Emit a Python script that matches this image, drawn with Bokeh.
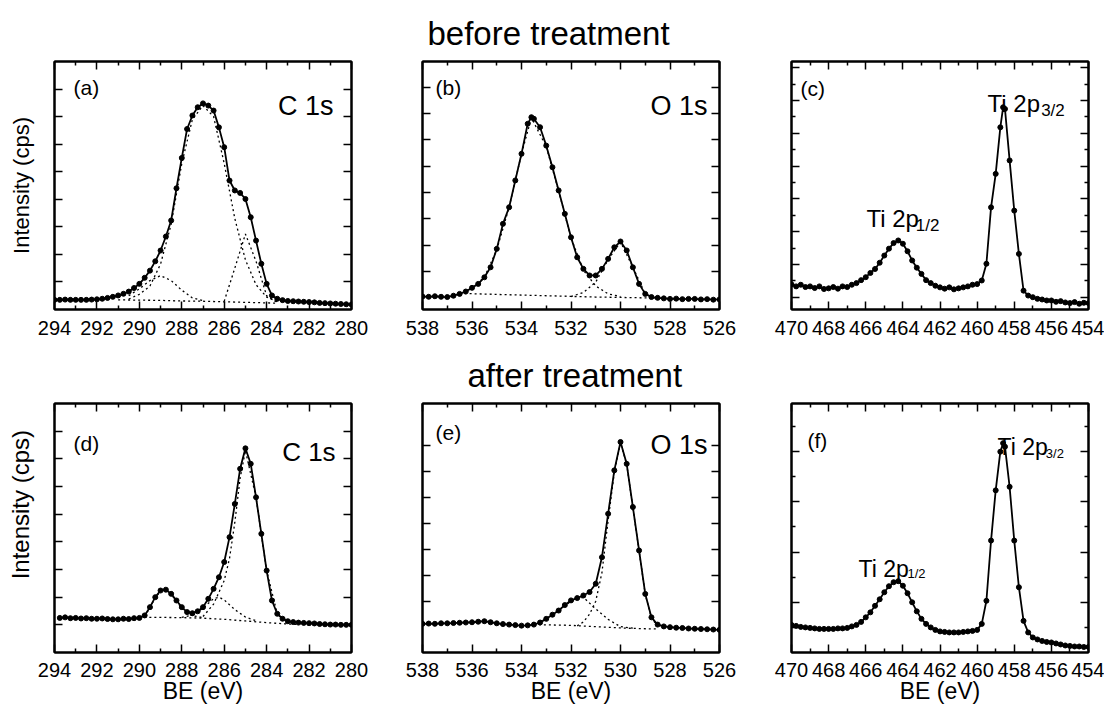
import numpy as np
from bokeh.plotting import figure
from bokeh.layouts import column, row
from bokeh.models import Range1d, FixedTicker, Label, LinearAxis
from bokeh.embed import file_html
from bokeh.resources import INLINE

# ---------------- data (binding energy in eV, intensity in arbitrary units) ----------------
# (a) C 1s before treatment
c1s_before_be = [294.00, 293.75, 293.50, 293.25, 293.00, 292.75, 292.50, 292.25, 292.00, 291.75,
                 291.50, 291.25, 291.00, 290.75, 290.50, 290.25, 290.00, 289.75, 289.50, 289.25,
                 289.00, 288.75, 288.50, 288.25, 288.00, 287.75, 287.50, 287.25, 287.00, 286.75,
                 286.50, 286.25, 286.00, 285.75, 285.50, 285.25, 285.00, 284.75, 284.50, 284.25,
                 284.00, 283.75, 283.50, 283.25, 283.00, 282.75, 282.50, 282.25, 282.00, 281.75,
                 281.50, 281.25, 281.00, 280.75, 280.50, 280.25, 280.00]
c1s_before_int = [0.35, 0.35, 0.36, 0.35, 0.35, 0.35, 0.35, 0.36, 0.37, 0.39,
                  0.42, 0.46, 0.51, 0.57, 0.65, 0.78, 0.93, 1.15, 1.41, 1.75,
                  2.14, 2.65, 3.23, 4.40, 5.50, 6.55, 7.04, 7.34, 7.48, 7.40,
                  7.22, 6.61, 5.89, 4.68, 4.32, 4.23, 4.01, 3.35, 2.50, 1.66,
                  0.93, 0.51, 0.39, 0.34, 0.31, 0.30, 0.29, 0.28, 0.27, 0.26,
                  0.24, 0.23, 0.22, 0.21, 0.20, 0.19, 0.18]
c1s_before_bg_be = [291.0, 290.0, 289.0, 288.0, 287.0, 286.0, 285.0, 284.0, 283.5]
c1s_before_bg = [0.35, 0.34, 0.33, 0.31, 0.30, 0.28, 0.26, 0.24, 0.23]
c1s_before_p1_be = [290.5, 290.0, 289.5, 289.0, 288.5, 288.0, 287.5, 287.0, 286.5, 286.0, 285.5, 285.0, 284.5, 284.0, 283.5]
c1s_before_p1 = [0.38, 0.55, 0.85, 1.65, 3.10, 5.30, 6.90, 7.40, 7.00, 5.30, 3.30, 1.80, 0.90, 0.45, 0.28]
c1s_before_p2_be = [290.5, 290.0, 289.5, 289.0, 288.5, 288.0, 287.5, 287.0]
c1s_before_p2 = [0.50, 0.75, 1.05, 1.23, 1.05, 0.70, 0.42, 0.32]
c1s_before_p3_be = [286.0, 285.5, 285.0, 284.5, 284.0, 283.5]
c1s_before_p3 = [0.30, 1.50, 2.74, 1.75, 0.50, 0.25]

# (b) O 1s before treatment
o1s_before_be = [538.00, 537.75, 537.50, 537.25, 537.00, 536.75, 536.50, 536.25, 536.00, 535.75,
                 535.50, 535.25, 535.00, 534.75, 534.50, 534.25, 534.00, 533.75, 533.60, 533.50,
                 533.25, 533.00, 532.75, 532.50, 532.25, 532.00, 531.75, 531.50, 531.25, 531.00,
                 530.75, 530.50, 530.25, 530.00, 529.75, 529.50, 529.25, 529.00, 528.75, 528.50,
                 528.25, 528.00, 527.75, 527.50, 527.25, 527.00, 526.75, 526.50, 526.25, 526.00]
o1s_before_int = [0.05, 0.04, 0.06, 0.04, 0.03, 0.08, 0.15, 0.24, 0.38, 0.53,
                  0.78, 1.16, 1.86, 2.81, 3.44, 4.46, 5.47, 6.61, 6.86, 6.80,
                  6.48, 5.78, 4.96, 4.08, 3.19, 2.30, 1.54, 1.10, 0.85, 0.85,
                  1.10, 1.48, 1.92, 2.14, 1.80, 1.16, 0.53, 0.15, 0.03, 0.00,
                  -0.02, -0.04, -0.03, -0.05, -0.04, -0.04, -0.06, -0.05, -0.07, -0.06]
o1s_before_bg_be = [536.5, 535.0, 533.0, 531.0, 529.0, 528.5]
o1s_before_bg = [0.17, 0.13, 0.08, 0.03, 0.00, -0.02]
o1s_before_p1_be = [536.5, 536.0, 535.5, 535.0, 534.5, 534.0, 533.6, 533.0, 532.5, 532.0, 531.5, 531.0, 530.5, 530.0]
o1s_before_p1 = [0.17, 0.36, 0.78, 1.82, 3.44, 5.47, 6.84, 5.74, 4.06, 2.28, 1.05, 0.45, 0.15, 0.05]
o1s_before_p2_be = [532.0, 531.5, 531.0, 530.5, 530.0, 529.5, 529.0, 528.5]
o1s_before_p2 = [0.05, 0.20, 0.60, 1.45, 2.12, 1.16, 0.15, 0.00]

# (c) Ti 2p before treatment
ti2p_before_be = [470.00, 469.75, 469.50, 469.25, 469.00, 468.75, 468.50, 468.25, 468.00, 467.75,
                  467.50, 467.25, 467.00, 466.75, 466.50, 466.25, 466.00, 465.75, 465.50, 465.25,
                  465.00, 464.75, 464.50, 464.25, 464.00, 463.75, 463.50, 463.25, 463.00, 462.75,
                  462.50, 462.25, 462.00, 461.75, 461.50, 461.25, 461.00, 460.75, 460.50, 460.25,
                  460.00, 459.75, 459.50, 459.25, 459.00, 458.75, 458.60, 458.50, 458.25, 458.00,
                  457.75, 457.50, 457.25, 457.00, 456.75, 456.50, 456.25, 456.00, 455.75, 455.50,
                  455.25, 455.00, 454.75, 454.50, 454.25, 454.00]
ti2p_before_int = [1.39, 1.33, 1.38, 1.31, 1.33, 1.28, 1.33, 1.25, 1.27, 1.31,
                   1.26, 1.33, 1.31, 1.38, 1.43, 1.52, 1.61, 1.74, 1.86, 2.05,
                   2.27, 2.48, 2.65, 2.73, 2.63, 2.40, 2.12, 1.90, 1.71, 1.52,
                   1.43, 1.35, 1.30, 1.26, 1.30, 1.24, 1.27, 1.30, 1.33, 1.38,
                   1.40, 1.51, 2.02, 3.74, 4.76, 6.18, 6.79, 6.74, 5.17, 3.64,
                   2.32, 1.20, 1.05, 1.00, 0.95, 0.93, 0.90, 0.90, 0.86, 0.88,
                   0.84, 0.82, 0.85, 0.80, 0.83, 0.82]

# (d) C 1s after treatment
c1s_after_be = [293.75, 293.50, 293.25, 293.00, 292.75, 292.50, 292.25, 292.00, 291.75, 291.50,
                291.25, 291.00, 290.75, 290.50, 290.25, 290.00, 289.75, 289.50, 289.25, 289.00,
                288.75, 288.50, 288.25, 288.00, 287.75, 287.50, 287.25, 287.00, 286.75, 286.50,
                286.25, 286.00, 285.75, 285.50, 285.25, 285.00, 284.75, 284.50, 284.25, 284.00,
                283.75, 283.50, 283.25, 283.00, 282.75, 282.50, 282.25, 282.00, 281.75, 281.50,
                281.25, 281.00, 280.75, 280.50, 280.25, 280.00]
c1s_after_int = [1.25, 1.27, 1.24, 1.25, 1.23, 1.24, 1.22, 1.22, 1.23, 1.21,
                 1.20, 1.20, 1.22, 1.21, 1.24, 1.25, 1.34, 1.64, 2.00, 2.24,
                 2.27, 2.12, 1.88, 1.64, 1.46, 1.42, 1.49, 1.64, 1.94, 2.30,
                 2.72, 3.27, 4.17, 5.37, 6.64, 7.38, 6.82, 5.61, 4.29, 2.96,
                 1.88, 1.40, 1.22, 1.13, 1.10, 1.08, 1.07, 1.06, 1.05, 1.03,
                 1.02, 1.01, 1.01, 1.00, 1.00, 1.00]
c1s_after_bg_be = [290.0, 289.0, 288.0, 287.0, 286.0, 285.0, 284.0, 283.0, 282.5]
c1s_after_bg = [1.27, 1.27, 1.26, 1.24, 1.20, 1.14, 1.08, 1.03, 1.01]
c1s_after_p1_be = [289.75, 289.5, 289.25, 289.0, 288.75, 288.5, 288.25, 288.0, 287.75, 287.5, 287.0]
c1s_after_p1 = [1.30, 1.62, 1.98, 2.22, 2.25, 2.10, 1.86, 1.60, 1.42, 1.33, 1.26]
c1s_after_p2_be = [288.0, 287.5, 287.0, 286.5, 286.25, 286.0, 285.5, 285.0, 284.5]
c1s_after_p2 = [1.27, 1.35, 1.60, 1.95, 2.00, 1.90, 1.55, 1.28, 1.15]
c1s_after_p3_be = [287.0, 286.5, 286.0, 285.75, 285.5, 285.25, 285.0, 284.5, 284.0, 283.5, 283.0]
c1s_after_p3 = [1.30, 1.75, 2.60, 3.40, 4.70, 6.30, 7.30, 5.60, 2.96, 1.40, 1.10]

# (e) O 1s after treatment
o1s_after_be = [538.00, 537.75, 537.50, 537.25, 537.00, 536.75, 536.50, 536.25, 536.00, 535.75,
                535.50, 535.25, 535.00, 534.75, 534.50, 534.25, 534.00, 533.75, 533.50, 533.25,
                533.00, 532.75, 532.50, 532.25, 532.00, 531.75, 531.50, 531.25, 531.00, 530.75,
                530.50, 530.25, 530.00, 529.75, 529.50, 529.25, 529.00, 528.75, 528.50, 528.25,
                528.00, 527.75, 527.50, 527.25, 527.00, 526.75, 526.50, 526.25, 526.00]
o1s_after_int = [0.13, 0.14, 0.13, 0.15, 0.15, 0.16, 0.17, 0.18, 0.19, 0.21,
                 0.23, 0.19, 0.15, 0.12, 0.10, 0.08, 0.06, 0.07, 0.10, 0.18,
                 0.32, 0.48, 0.64, 0.85, 1.03, 1.12, 1.22, 1.35, 1.67, 2.69,
                 4.36, 6.03, 7.12, 6.28, 4.62, 2.95, 1.28, 0.38, 0.10, 0.03,
                 0.00, -0.02, -0.03, -0.05, -0.06, -0.07, -0.08, -0.09, -0.10]
o1s_after_bg_be = [533.5, 532.0, 531.0, 530.0, 529.0, 528.5]
o1s_after_bg = [0.10, 0.07, 0.02, -0.03, -0.06, -0.07]
o1s_after_p1_be = [533.5, 533.0, 532.5, 532.0, 531.5, 531.0, 530.5, 530.0, 529.5]
o1s_after_p1 = [0.10, 0.32, 0.64, 1.00, 1.15, 0.70, 0.30, 0.02, -0.04]
o1s_after_p2_be = [531.75, 531.5, 531.25, 531.0, 530.75, 530.5, 530.25, 530.0, 529.75, 529.5, 529.25, 529.0, 528.75, 528.5]
o1s_after_p2 = [0.05, 0.20, 0.50, 1.00, 2.10, 4.10, 5.95, 7.10, 6.26, 4.60, 2.93, 1.27, 0.35, 0.05]

# (f) Ti 2p after treatment
ti2p_after_be = [470.00, 469.75, 469.50, 469.25, 469.00, 468.75, 468.50, 468.25, 468.00, 467.75,
                 467.50, 467.25, 467.00, 466.75, 466.50, 466.25, 466.00, 465.75, 465.50, 465.25,
                 465.00, 464.75, 464.50, 464.25, 464.00, 463.75, 463.50, 463.25, 463.00, 462.75,
                 462.50, 462.25, 462.00, 461.75, 461.50, 461.25, 461.00, 460.75, 460.50, 460.25,
                 460.00, 459.75, 459.50, 459.25, 459.00, 458.75, 458.60, 458.50, 458.25, 458.00,
                 457.75, 457.50, 457.25, 457.00, 456.75, 456.50, 456.25, 456.00, 455.75, 455.50,
                 455.25, 455.00, 454.75, 454.50, 454.25, 454.00]
ti2p_after_int = [0.55, 0.53, 0.51, 0.50, 0.49, 0.48, 0.47, 0.47, 0.47, 0.47,
                  0.48, 0.48, 0.49, 0.52, 0.55, 0.61, 0.70, 0.80, 0.93, 1.06,
                  1.20, 1.32, 1.40, 1.42, 1.33, 1.18, 1.00, 0.82, 0.67, 0.57,
                  0.50, 0.45, 0.42, 0.41, 0.40, 0.40, 0.40, 0.41, 0.42, 0.43,
                  0.45, 0.57, 1.03, 2.23, 3.23, 4.00, 4.17, 4.10, 3.30, 2.23,
                  1.30, 0.63, 0.40, 0.30, 0.26, 0.23, 0.21, 0.20, 0.18, 0.16,
                  0.14, 0.13, 0.12, 0.12, 0.11, 0.11]

# axis ticks
c_ticks = [294, 292, 290, 288, 286, 284, 282, 280]
c_minor = [293, 291, 289, 287, 285, 283, 281]
o_ticks = [538, 536, 534, 532, 530, 528, 526]
o_minor = [537, 535, 533, 531, 529, 527]
ti_ticks = [470, 468, 466, 464, 462, 460, 458, 456, 454]
ti_minor = [469, 467, 465, 463, 461, 459, 457, 455]

FONT = "Liberation Sans"


def style_axis(ax, ticks, minor, show_labels, major_in=8, minor_in=4):
    ax.ticker = FixedTicker(ticks=ticks, minor_ticks=minor)
    ax.major_tick_in = major_in
    ax.major_tick_out = 0
    ax.minor_tick_in = minor_in
    ax.minor_tick_out = 0
    ax.axis_line_width = 2
    ax.axis_line_color = "black"
    ax.major_tick_line_width = 1.5
    ax.minor_tick_line_width = 1.5
    ax.major_tick_line_color = "black"
    ax.minor_tick_line_color = "black"
    if not show_labels:
        ax.major_label_overrides = {t: "" for t in ticks}
        ax.major_label_standoff = 0
        ax.major_label_text_font_size = "1px"


def panel(width, height, bl, br, bt, bb, xr, yr, xt, xm, yt, ym, ymaj_in=8, ymin_in=4, label_standoff=11):
    p = figure(width=width, height=height, x_range=Range1d(*xr), y_range=Range1d(*yr),
               output_backend="svg", toolbar_location=None,
               min_border_left=bl, min_border_right=br, min_border_top=bt, min_border_bottom=bb)
    p.grid.visible = False
    p.outline_line_color = "black"
    p.outline_line_width = 2
    p.background_fill_color = "white"
    p.border_fill_color = "white"
    bottom = p.xaxis[0]
    left = p.yaxis[0]
    style_axis(bottom, xt, xm, True)
    bottom.major_label_text_font = FONT
    bottom.major_label_text_font_size = "20px"
    bottom.major_label_text_color = "black"
    bottom.major_label_standoff = label_standoff
    style_axis(left, yt, ym, False, ymaj_in, ymin_in)
    top = LinearAxis()
    style_axis(top, xt, xm, False)
    p.add_layout(top, "above")
    right = LinearAxis()
    style_axis(right, yt, ym, False, ymaj_in, ymin_in)
    p.add_layout(right, "right")
    return p, bottom, left


def spectrum(p, be, inten):
    p.line(be, inten, line_color="black", line_width=1.8)
    p.scatter(be, inten, size=5, color="black")


def comp(p, be, inten):
    p.line(be, inten, line_color="black", line_width=1.3, line_dash="2 3")


def lab(p, x, y, text, size, align="left", baseline="alphabetic"):
    p.add_layout(Label(x=x, y=y, text=text, text_font=FONT, text_font_size=size,
                       text_align=align, text_baseline=baseline, text_color="black"))


def ylabel(ax, text, size):
    ax.axis_label = text
    ax.axis_label_text_font = FONT
    ax.axis_label_text_font_size = size
    ax.axis_label_text_font_style = "normal"
    ax.axis_label_text_color = "black"
    ax.axis_label_standoff = 21


def xlabel(ax, text):
    ax.axis_label = text
    ax.axis_label_text_font = FONT
    ax.axis_label_text_font_size = "23px"
    ax.axis_label_text_font_style = "normal"
    ax.axis_label_text_color = "black"
    ax.axis_label_standoff = -2


def title(p, text, offset):
    p.title.text = text
    p.title.align = "left"
    p.title.offset = offset
    p.title.text_font = FONT
    p.title.text_font_size = "33px"
    p.title.text_font_style = "normal"
    p.title.text_color = "black"
    p.title.standoff = 20


W = [(386, 54, 35), (369, 36, 36), (349, 36, 16)]
H1, BT1, BB1 = 343, 61, 34
H2, BT2, BB2 = 365, 60, 56

# ---- top row ----
pa, pa_x, pa_y = panel(W[0][0], H1, W[0][1], W[0][2], BT1, BB1, (294, 280), (0, 9), c_ticks, c_minor,
                       [1, 2, 3, 4, 5, 6, 7, 8], [])
for be, v in [(c1s_before_bg_be, c1s_before_bg), (c1s_before_p1_be, c1s_before_p1),
              (c1s_before_p2_be, c1s_before_p2), (c1s_before_p3_be, c1s_before_p3)]:
    comp(pa, be, v)
spectrum(pa, c1s_before_be, c1s_before_int)
lab(pa, 293.10, 8.06, "(a)", "21px")
lab(pa, 280.85, 7.40, "C 1s", "27px", align="right")
ylabel(pa_y, "Intensity (cps)", "22px")

pb, pb_x, pb_y = panel(W[1][0], H1, W[1][1], W[1][2], BT1, BB1, (538, 526), (-0.443, 8.976), o_ticks, o_minor,
                       [1, 2, 3, 4, 5, 6, 7, 8], [])
for be, v in [(o1s_before_bg_be, o1s_before_bg), (o1s_before_p1_be, o1s_before_p1),
              (o1s_before_p2_be, o1s_before_p2)]:
    comp(pb, be, v)
spectrum(pb, o1s_before_be, o1s_before_int)
lab(pb, 537.47, 7.99, "(b)", "21px")
lab(pb, 526.48, 7.30, "O 1s", "27px", align="right")
title(pb, "before treatment", 5)

pc, pc_x, pc_y = panel(W[2][0], H1, W[2][1], W[2][2], BT1, BB1, (470, 454), (0.625, 8.186), ti_ticks, ti_minor,
                       [1, 2, 3, 4, 5, 6, 7, 8], [1.5, 2.5, 3.5, 4.5, 5.5, 6.5, 7.5])
spectrum(pc, ti2p_before_be, ti2p_before_int)
lab(pc, 469.52, 7.36, "(c)", "21px")
lab(pc, 459.44, 6.91, "Ti 2p", "24px")
lab(pc, 456.55, 6.69, "3/2", "17px")
lab(pc, 465.96, 3.40, "Ti 2p", "24px")
lab(pc, 463.30, 3.19, "1/2", "17px")

# ---- bottom row ----
pd_, pd_x, pd_y = panel(W[0][0], H2, W[0][1], W[0][2], BT2, BB2, (294, 280), (0, 9), c_ticks, c_minor,
                        [1, 2, 3, 4, 5, 6, 7, 8], [], label_standoff=10)
for be, v in [(c1s_after_bg_be, c1s_after_bg), (c1s_after_p1_be, c1s_after_p1),
              (c1s_after_p2_be, c1s_after_p2), (c1s_after_p3_be, c1s_after_p3)]:
    comp(pd_, be, v)
spectrum(pd_, c1s_after_be, c1s_after_int)
lab(pd_, 293.10, 7.55, "(d)", "21px")
lab(pd_, 280.75, 7.23, "C 1s", "26px", align="right")
ylabel(pd_y, "\u00a0" * 7 + "Intensity (cps)", "24px")
xlabel(pd_x, "BE (eV)")

pe, pe_x, pe_y = panel(W[1][0], H2, W[1][1], W[1][2], BT2, BB2, (538, 526), (-0.973, 8.60), o_ticks, o_minor,
                       [1, 2, 3, 4, 5, 6, 7], [], label_standoff=10)
for be, v in [(o1s_after_bg_be, o1s_after_bg), (o1s_after_p1_be, o1s_after_p1),
              (o1s_after_p2_be, o1s_after_p2)]:
    comp(pe, be, v)
spectrum(pe, o1s_after_be, o1s_after_int)
lab(pe, 537.47, 7.49, "(e)", "21px")
lab(pe, 526.48, 6.99, "O 1s", "27px", align="right")
title(pe, "after treatment", 45)
xlabel(pe_x, "BE (eV)")

pf, pf_x, pf_y = panel(W[2][0], H2, W[2][1], W[2][2], BT2, BB2, (470, 454), (0.0, 4.96), ti_ticks, ti_minor,
                       [1, 2, 3, 4], [0.5, 1.5, 2.5, 3.5, 4.5], label_standoff=10)
spectrum(pf, ti2p_after_be, ti2p_after_int)
lab(pf, 469.14, 4.23, "(f)", "21px")
lab(pf, 458.90, 4.09, "Ti 2p", "23px")
lab(pf, 456.30, 3.97, "3/2", "13px")
lab(pf, 466.39, 1.67, "Ti 2p", "23px")
lab(pf, 463.75, 1.57, "1/2", "13px")
xlabel(pf_x, "BE (eV)")

layout = column(row(pa, pb, pc), row(pd_, pe, pf))
open("out.html", "w").write(file_html(layout, INLINE))
